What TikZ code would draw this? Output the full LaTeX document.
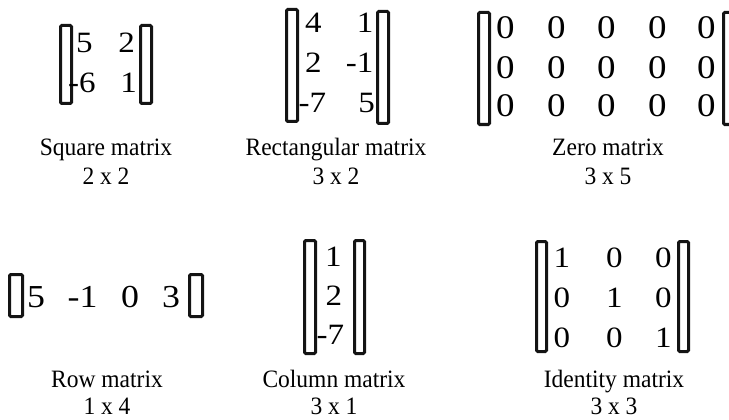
\documentclass[tikz,border=0pt]{standalone}
\usepackage{fontspec}
\setmainfont{Liberation Serif}
\newfontfamily\entfont{Liberation Serif}[FakeStretch=1.12]
\newfontfamily\capfont{Liberation Serif}[FakeStretch=0.94]
\tikzset{
  brk/.style={draw=black!92, line width=3pt, rounded corners=1.2pt, fill=white},
  ent/.style={inner sep=0pt, font=\fontsize{29.5}{29.5}\entfont},
  entz/.style={inner sep=0pt, font=\fontsize{33}{33}\entfont},
  entr/.style={inner sep=0pt, font=\fontsize{32}{32}\entfont},
  captext/.style={inner sep=0pt, anchor=base, font=\fontsize{25}{25}\capfont},
}
\begin{document}
\begin{tikzpicture}[x=1pt, y=-1pt]
\useasboundingbox (0,0) rectangle (729,420);

% ---------- square matrix 2 x 2 ----------
\draw[brk] (60.5,25.5) rectangle (71.5,103.5);
\draw[brk] (140.5,25.5) rectangle (151.5,103.5);
\node[ent, anchor=base west] (s11) at (76,53) {5};
\node[ent, anchor=base east] (s12) at (135,53) {2};
\node[ent, anchor=base west] (s21) at (68,93) {-6};
\node[ent, anchor=base east] (s22) at (137,93) {1};
\node[captext] (sqa) at (106,155) {Square matrix};
\node[captext] (sqb) at (106,184) {2 x 2};

% ---------- rectangular matrix 3 x 2 ----------
\draw[brk] (286.5,9.5) rectangle (297.5,121.5);
\draw[brk] (377.5,11.5) rectangle (388.5,123.5);
\node[ent, anchor=base west] (r11) at (305,33) {4};
\node[ent, anchor=base east] (r12) at (373.5,33) {1};
\node[ent, anchor=base west] (r21) at (305,73) {2};
\node[ent, anchor=base east] (r22) at (373.5,73) {-1};
\node[ent, anchor=base west] (r31) at (298.5,113) {-7};
\node[ent, anchor=base east] (r32) at (375,113) {5};
\node[captext] (rca) at (336,155) {Rectangular matrix};
\node[captext] (rcb) at (336,184) {3 x 2};

% ---------- zero matrix 3 x 5 ----------
\draw[brk] (478.5,12.5) rectangle (489.5,124.5);
\draw[brk] (723.5,12.5) rectangle (734.5,124.5);
\foreach \c/\x in {1/496,2/547,3/597,4/648,5/697}{
  \foreach \r/\y in {1/39,2/78,3/117}{
    \node[entz, anchor=base west] (z\r\c) at (\x,\y) {0};
  }
}
\node[captext] (zra) at (608,155) {Zero matrix};
\node[captext] (zrb) at (608,184) {3 x 5};

% ---------- row matrix 1 x 4 ----------
\draw[brk] (9.5,274.5) rectangle (22.5,316.5);
\draw[brk] (189.5,274.5) rectangle (202.5,316.5);
\node[entr, anchor=base west] (w1) at (27,307) {5};
\node[entr, anchor=base west] (w2) at (67.5,307) {-1};
\node[entr, anchor=base west] (w3) at (121,307) {0};
\node[entr, anchor=base west] (w4) at (162,307) {3};
\node[captext] (rwa) at (107,387) {Row matrix};
\node[captext] (rwb) at (107,414) {1 x 4};

% ---------- column matrix 3 x 1 ----------
\draw[brk] (304.5,240.5) rectangle (315.5,353.5);
\draw[brk] (354.5,240.5) rectangle (364.5,353.5);
\node[ent, anchor=base] (c1) at (333.5,266) {1};
\node[ent, anchor=base] (c2) at (334,305) {2};
\node[ent, anchor=base west] (c3) at (316.5,344) {-7};
\node[captext] (cla) at (334,387) {Column matrix};
\node[captext] (clb) at (334,414) {3 x 1};

% ---------- identity matrix 3 x 3 ----------
\draw[brk] (536.5,241.5) rectangle (546.5,351.5);
\draw[brk] (678.5,241.5) rectangle (688.5,351.5);
\foreach \r/\y/\a/\b/\d in {1/267/1/0/0, 2/307/0/1/0, 3/347/0/0/1}{
  \node[ent, anchor=base] (i\r1) at (562,\y) {\a};
  \node[ent, anchor=base] (i\r2) at (614.5,\y) {\b};
  \node[ent, anchor=base] (i\r3) at (663.5,\y) {\d};
}
\node[captext] (ida) at (614,387) {Identity matrix};
\node[captext] (idb) at (614,414) {3 x 3};
\end{tikzpicture}
\end{document}
